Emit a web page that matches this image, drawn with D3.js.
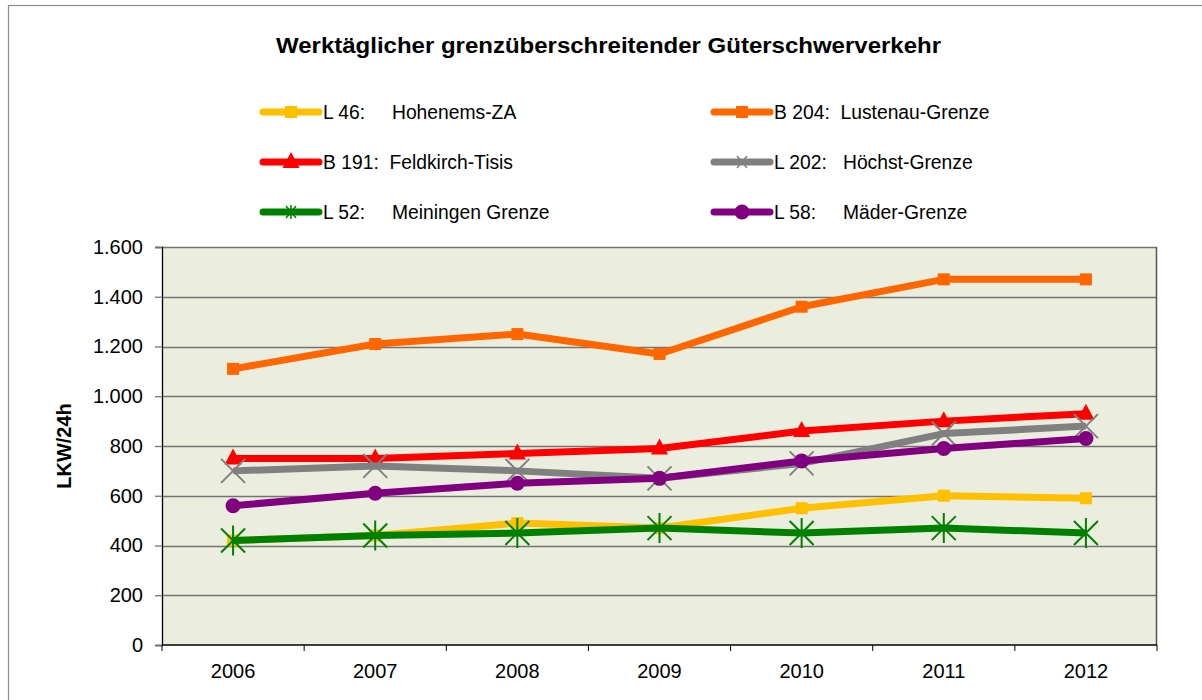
<!DOCTYPE html>
<html>
<head>
<meta charset="utf-8">
<script src="https://cdn.jsdelivr.net/npm/d3@7"></script>
<style>
  body { margin: 0; background: #fff; }
  text { font-family: "Liberation Sans", Arial, sans-serif; }
</style>
</head>
<body>
<div id="chart"></div>
<script>
// data
var years = ["2006", "2007", "2008", "2009", "2010", "2011", "2012"];
var yTicks = [0, 200, 400, 600, 800, 1000, 1200, 1400, 1600];

var l46  = [420, 440, 490, 470, 550, 600, 590];
var b204 = [1110, 1210, 1250, 1170, 1360, 1470, 1470];
var b191 = [750, 750, 770, 790, 860, 900, 930];
var l202 = [700, 720, 700, 670, 730, 850, 880];
var l52  = [420, 440, 450, 470, 450, 470, 450];
var l58  = [560, 610, 650, 670, 740, 790, 830];

var seriesNames = ["L 46:     Hohenems-ZA", "B 204:  Lustenau-Grenze", "B 191:  Feldkirch-Tisis",
                   "L 202:   Höchst-Grenze", "L 52:     Meiningen Grenze", "L 58:     Mäder-Grenze"];

var series = [
  {name: seriesNames[0], values: l46,  color: "#FFC000", marker: "square"},
  {name: seriesNames[1], values: b204, color: "#FF6600", marker: "square"},
  {name: seriesNames[2], values: b191, color: "#FF0000", marker: "triangle"},
  {name: seriesNames[3], values: l202, color: "#808080", marker: "x"},
  {name: seriesNames[4], values: l52,  color: "#008000", marker: "star"},
  {name: seriesNames[5], values: l58,  color: "#800080", marker: "circle"}
];

var W = 1202, H = 700;
var margin = {top: 247, right: 45, bottom: 55, left: 162};
var width = W - margin.left - margin.right,
    height = H - margin.top - margin.bottom;

var root = d3.select("#chart").append("svg")
    .attr("width", W)
    .attr("height", H);

// outer chart border
root.append("rect")
    .attr("x", 8.5).attr("y", 5.5)
    .attr("width", W + 10).attr("height", H + 10)
    .attr("fill", "none")
    .attr("stroke", "#8c8c8c")
    .attr("stroke-width", 1.2);

root.append("text")
    .attr("x", 608.5).attr("y", 53)
    .attr("text-anchor", "middle")
    .attr("textLength", 665)
    .attr("lengthAdjust", "spacingAndGlyphs")
    .style("font-size", "22px")
    .style("font-weight", "bold")
    .text("Werktäglicher grenzüberschreitender Güterschwerverkehr");

var svg = root.append("g")
    .attr("transform", "translate(" + margin.left + "," + margin.top + ")");

var x = d3.scaleBand().domain(years).range([0, width]);
var y = d3.scaleLinear().domain([0, 1600]).range([height, 0]);

// plot area
svg.append("rect")
    .attr("width", width).attr("height", height)
    .attr("fill", "#EBEEDE");

// gridlines
svg.append("g")
  .selectAll("line")
  .data(yTicks.slice(1))
  .enter().append("line")
    .attr("x1", 0).attr("x2", width)
    .attr("y1", function(d) { return Math.round(y(d)) + 0.5; })
    .attr("y2", function(d) { return Math.round(y(d)) + 0.5; })
    .attr("stroke", "#737373")
    .attr("stroke-width", 1.3);

svg.append("line")
    .attr("x1", width - 0.5).attr("x2", width - 0.5)
    .attr("y1", 0).attr("y2", height)
    .attr("stroke", "#555")
    .attr("stroke-width", 1.5);

// y axis
var yAxis = svg.append("g")
    .call(d3.axisLeft(y).tickValues(yTicks).tickSize(7).tickPadding(12)
      .tickFormat(function(d) { return d3.format(",")(d).replace(/,/g, "."); }));
yAxis.select(".domain").attr("stroke", "#000").attr("stroke-width", 1.3);
yAxis.selectAll(".tick line").attr("stroke", "#737373").attr("stroke-width", 1.3);
yAxis.selectAll("text")
    .style("font-size", "20px")
    .style("font-family", "'Liberation Sans', Arial, sans-serif")
    .attr("fill", "#000");

// x axis: ticks between categories
var xAxis = svg.append("g")
    .attr("transform", "translate(0," + height + ")");
xAxis.append("line")
    .attr("x1", 0).attr("x2", width)
    .attr("stroke", "#000").attr("stroke-width", 1.5);
xAxis.selectAll(".tk")
  .data(years.concat(["end"]))
  .enter().append("line")
    .attr("class", "tk")
    .attr("x1", function(d, i) { return i * x.step(); })
    .attr("x2", function(d, i) { return i * x.step(); })
    .attr("y1", 0).attr("y2", 6)
    .attr("stroke", "#000");
xAxis.selectAll("text")
  .data(years)
  .enter().append("text")
    .attr("x", function(d) { return x(d) + x.bandwidth() / 2; })
    .attr("y", 33)
    .attr("text-anchor", "middle")
    .style("font-size", "20px")
    .text(function(d) { return d; });

// y axis label
root.append("text")
    .attr("transform", "translate(71," + (margin.top + height / 2) + ") rotate(-90)")
    .attr("text-anchor", "middle")
    .style("font-size", "20px")
    .style("font-weight", "bold")
    .text("LKW/24h");

function drawMarker(g, type, color) {
  if (type === "square") {
    g.append("rect").attr("x", -6).attr("y", -6).attr("width", 12).attr("height", 12).attr("fill", color);
  } else if (type === "triangle") {
    g.append("path").attr("d", "M0,-10L8.5,6L-8.5,6Z").attr("fill", color);
  } else if (type === "circle") {
    g.append("circle").attr("r", 7.5).attr("fill", color);
  } else if (type === "x") {
    g.append("path").attr("d", "M-12,-12L12,12M-12,12L12,-12")
      .attr("stroke", color).attr("stroke-width", 2);
  } else if (type === "star") {
    g.append("path").attr("d", "M-12,-12L12,12M-12,12L12,-12M0,-15L0,15")
      .attr("stroke", color).attr("stroke-width", 2);
  }
}

var line = d3.line()
    .x(function(d, i) { return x(years[i]) + x.bandwidth() / 2; })
    .y(function(d) { return y(d); });

series.forEach(function(s) {
  var g = svg.append("g");
  g.append("path")
      .datum(s.values)
      .attr("d", line)
      .attr("fill", "none")
      .attr("stroke", s.color)
      .attr("stroke-width", 7)
      .attr("stroke-linejoin", "round");
  s.values.forEach(function(v, i) {
    var m = g.append("g")
        .attr("transform", "translate(" + (x(years[i]) + x.bandwidth() / 2) + "," + y(v) + ")");
    drawMarker(m, s.marker, s.color);
  });
});

// legend, two columns
var legend = root.append("g");
series.forEach(function(s, i) {
  var lx = i % 2 === 0 ? 263 : 714,
      ly = 112 + Math.floor(i / 2) * 50;
  var item = legend.append("g").attr("transform", "translate(" + lx + "," + ly + ")");
  item.append("line")
      .attr("x1", 0).attr("x2", 56)
      .attr("stroke", s.color).attr("stroke-width", 7).attr("stroke-linecap", "round");
  var m = item.append("g").attr("transform", "translate(28,0)");
  if (s.marker === "x" || s.marker === "star") {
    m.append("path")
      .attr("d", s.marker === "x" ? "M-5,-6L5,6M-5,6L5,-6" : "M-5,-6L5,6M-5,6L5,-6M0,-7L0,7")
      .attr("stroke", s.color).attr("stroke-width", 1.5);
  } else {
    drawMarker(m, s.marker, s.color);
  }
  item.append("text")
      .attr("x", 60).attr("y", 7)
      .attr("xml:space", "preserve")
      .style("white-space", "pre")
      .style("font-size", "19.3px")
      .text(s.name);
});
</script>
</body>
</html>
